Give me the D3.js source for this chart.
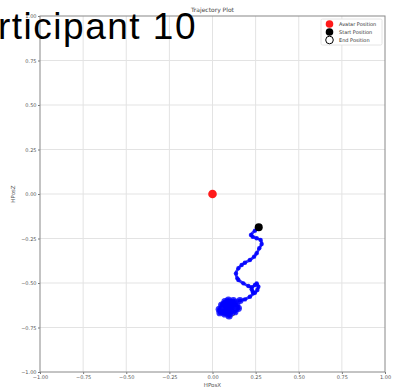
<!DOCTYPE html>
<html><head><meta charset="utf-8">
<script src="https://cdn.jsdelivr.net/npm/d3@7"></script>
<style>body{margin:0;background:#fff}svg{display:block}text{font-family:"DejaVu Sans",sans-serif}text.big{font-family:"Liberation Sans",Arial,sans-serif;letter-spacing:1.5px}</style>
</head><body><svg id="c" width="393" height="390"></svg>
<script>
const title = "Trajectory Plot";
const overlay = "Participant 10";
const xLabel = "HPosX", yLabel = "HPosZ";
const xTicks = [-1, -0.75, -0.5, -0.25, 0, 0.25, 0.5, 0.75, 1];
const yTicks = [-1, -0.75, -0.5, -0.25, 0, 0.25, 0.5, 0.75, 1];
const legendLabels = ["Avatar Position", "Start Position", "End Position"];
const avatarPos = [0, 0];
const startPos = [0.268, -0.187];
const endPos = [0.111, -0.667];
const trajX = [0.268,0.246,0.223,0.233,0.256,0.279,0.285,0.271,0.256,0.241,0.217,0.188,0.169,0.150,0.136,0.144,0.150,0.179,0.208,0.227,0.246,0.256,0.266,0.260,0.246,0.233,0.227,0.237,0.217,0.188,0.159,0.121,0.092,0.072,0.053,0.039,0.043,0.072,0.101,0.130,0.150,0.140,0.101,0.078,0.113,0.061,0.090,0.125,0.067,0.096,0.085,0.108];
const trajZ = [-0.187,-0.206,-0.230,-0.240,-0.249,-0.258,-0.281,-0.305,-0.333,-0.352,-0.371,-0.386,-0.399,-0.417,-0.446,-0.474,-0.483,-0.502,-0.517,-0.524,-0.511,-0.502,-0.521,-0.539,-0.555,-0.549,-0.535,-0.558,-0.577,-0.592,-0.599,-0.599,-0.596,-0.605,-0.624,-0.648,-0.667,-0.674,-0.670,-0.661,-0.642,-0.624,-0.612,-0.640,-0.635,-0.657,-0.652,-0.618,-0.618,-0.685,-0.630,-0.645];

const svg = d3.select("#c");
const L = 40, R = 385, T = 16, B = 372;
const x = d3.scaleLinear().domain([-1, 1]).range([L, R]);
const y = d3.scaleLinear().domain([-1, 1]).range([B, T]);
const fmt = d => d3.format(".2f")(d).replace("-", "\u2212");

// grid
svg.append("g").selectAll("line").data(xTicks.slice(1, -1)).join("line")
  .attr("x1", d => x(d)).attr("x2", d => x(d)).attr("y1", T).attr("y2", B)
  .attr("stroke", "#e3e3e3").attr("stroke-width", 1);
svg.append("g").selectAll("line").data(yTicks.slice(1, -1)).join("line")
  .attr("y1", d => y(d)).attr("y2", d => y(d)).attr("x1", L).attr("x2", R)
  .attr("stroke", "#e3e3e3").attr("stroke-width", 1);

// axes
const xa = svg.append("g").attr("transform", `translate(0,${B})`)
  .call(d3.axisBottom(x).tickValues(xTicks).tickFormat(fmt).tickSize(2).tickPadding(1.5));
const ya = svg.append("g").attr("transform", `translate(${L},0)`)
  .call(d3.axisLeft(y).tickValues(yTicks).tickFormat(fmt).tickSize(2).tickPadding(1.5));
[xa, ya].forEach(g => {
  g.selectAll("text").attr("font-size", 5).attr("fill", "#555");
  g.selectAll("line").attr("stroke", "#777");
  g.select(".domain").remove();
});
svg.append("rect").attr("x", L).attr("y", T).attr("width", R - L).attr("height", B - T)
  .attr("fill", "none").attr("stroke", "#888").attr("stroke-width", 1);

// labels
svg.append("text").attr("x", (L + R) / 2).attr("y", 387).attr("text-anchor", "middle")
  .attr("font-size", 5.5).attr("fill", "#555").text(xLabel);
svg.append("text").attr("transform", `translate(15,${y(0)}) rotate(-90)`).attr("text-anchor", "middle")
  .attr("font-size", 5.5).attr("fill", "#555").text(yLabel);
svg.append("text").attr("x", (L + R) / 2).attr("y", 12).attr("text-anchor", "middle")
  .attr("font-size", 6).attr("fill", "#444").text(title);

// end marker (under trajectory)
svg.append("circle").attr("cx", x(endPos[0])).attr("cy", y(endPos[1])).attr("r", 3.5)
  .attr("fill", "#fff").attr("stroke", "#555").attr("stroke-width", 1);

// trajectory
const pts = trajX.map((d, i) => [d, trajZ[i]]);
svg.append("path").datum(pts)
  .attr("d", d3.line().x(d => x(d[0])).y(d => y(d[1])).curve(d3.curveCatmullRom))
  .attr("fill", "none").attr("stroke", "#1a1aff").attr("stroke-width", 2.8)
  .attr("stroke-linecap", "round").attr("stroke-linejoin", "round").attr("opacity", 0.9);
svg.append("g").selectAll("circle").data(pts).join("circle")
  .attr("cx", d => x(d[0])).attr("cy", d => y(d[1])).attr("r", 2.2)
  .attr("fill", "#0000ff").attr("opacity", 0.85);
// dense cluster blob
const blob = pts.slice(30, 52);
svg.append("g").selectAll("circle").data(blob).join("circle")
  .attr("cx", d => x(d[0])).attr("cy", d => y(d[1])).attr("r", 3.6)
  .attr("fill", "#0000ff").attr("opacity", 0.8);

// avatar and start
svg.append("circle").attr("cx", x(avatarPos[0])).attr("cy", y(avatarPos[1])).attr("r", 4.3).attr("fill", "#ff1a1a");
svg.append("circle").attr("cx", x(startPos[0])).attr("cy", y(startPos[1])).attr("r", 4).attr("fill", "#000");

// legend
const lg = svg.append("g");
lg.append("rect").attr("x", 321).attr("y", 19).attr("width", 61).attr("height", 26)
  .attr("fill", "#fff").attr("stroke", "#ddd").attr("stroke-width", 0.8).attr("rx", 1.5);
const lc = [{f:"#ff1a1a",s:"none"},{f:"#000",s:"none"},{f:"#fff",s:"#000"}];
legendLabels.forEach((t, i) => {
  const cy = 24 + i * 8;
  lg.append("circle").attr("cx", 329.5).attr("cy", cy).attr("r", 3.8)
    .attr("fill", lc[i].f).attr("stroke", lc[i].s).attr("stroke-width", 1);
  lg.append("text").attr("x", 339).attr("y", cy + 1.8).attr("font-size", 5).attr("fill", "#333").text(t);
});

// overlay label
svg.append("text").attr("class", "big").attr("x", 197).attr("y", 39).attr("text-anchor", "end")
  .attr("font-size", 37).attr("fill", "#000").text(overlay);
</script></body></html>
